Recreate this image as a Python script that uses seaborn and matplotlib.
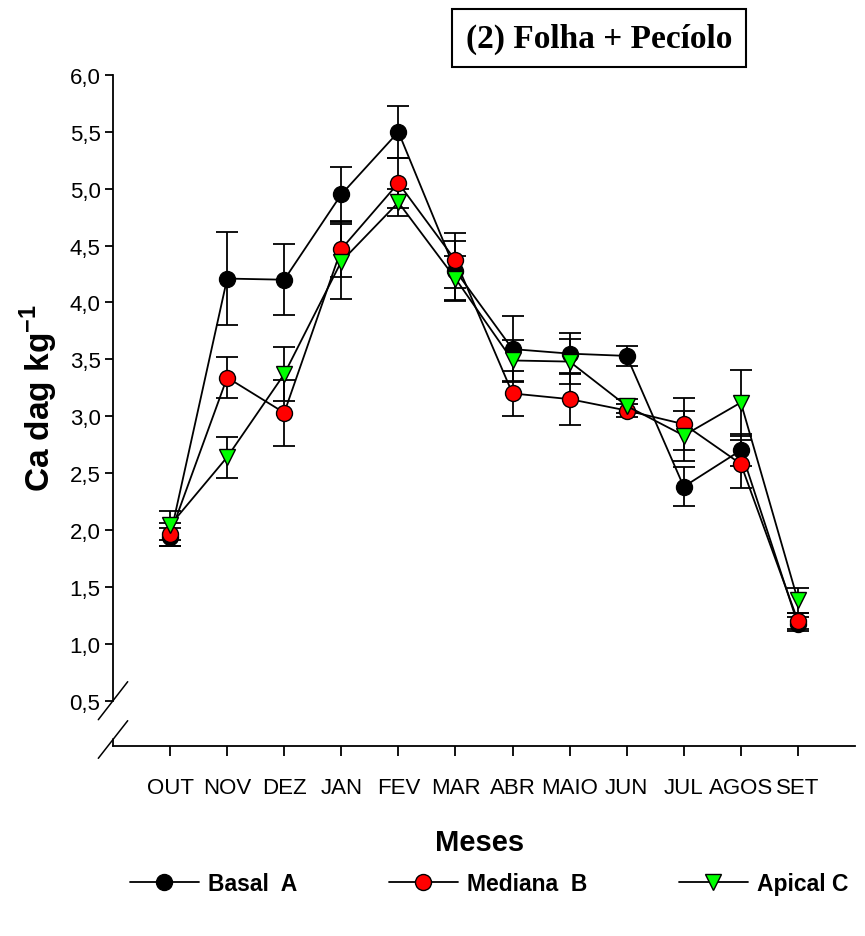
import numpy as np
import pandas as pd
import matplotlib
matplotlib.use('Agg')
import matplotlib.pyplot as plt
import seaborn as sns
from matplotlib.lines import Line2D

# ---------------- data ----------------
months = ['OUT', 'NOV', 'DEZ', 'JAN', 'FEV', 'MAR', 'ABR', 'MAIO', 'JUN', 'JUL', 'AGOS', 'SET']
basal = [1.94, 4.21, 4.20, 4.95, 5.50, 4.28, 3.59, 3.55, 3.53, 2.38, 2.70, 1.17]
basal_err = [0.08, 0.41, 0.31, 0.24, 0.23, 0.26, 0.29, 0.18, 0.09, 0.17, 0.14, 0.06]
mediana = [1.96, 3.34, 3.03, 4.47, 5.05, 4.37, 3.20, 3.15, 3.05, 2.93, 2.58, 1.20]
mediana_err = [0.10, 0.18, 0.29, 0.25, 0.22, 0.24, 0.20, 0.23, 0.06, 0.23, 0.21, 0.07]
apical = [2.04, 2.64, 3.37, 4.36, 4.88, 4.21, 3.49, 3.48, 3.09, 2.83, 3.12, 1.38]
apical_err = [0.13, 0.18, 0.24, 0.33, 0.12, 0.20, 0.18, 0.20, 0.06, 0.22, 0.29, 0.11]
series_names = ['Basal  A', 'Mediana  B', 'Apical C']
yticks = [0.5, 1.0, 1.5, 2.0, 2.5, 3.0, 3.5, 4.0, 4.5, 5.0, 5.5, 6.0]
title = '(2) Folha + Pecíolo'

# ---------------- style ----------------
sns.set_theme(style='white')
plt.rcParams['font.family'] = ['Liberation Sans', 'DejaVu Sans']
plt.rcParams['mathtext.fontset'] = 'custom'
plt.rcParams['mathtext.rm'] = 'Liberation Sans'
plt.rcParams['mathtext.bf'] = 'Liberation Sans:bold'
for k in ['text.color', 'axes.labelcolor', 'xtick.color', 'ytick.color', 'axes.edgecolor']:
    plt.rcParams[k] = 'black'

W, H = 865, 937
fig = plt.figure(figsize=(W / 100, H / 100), dpi=100)
ax = fig.add_axes([113 / W, 1 - 747 / H, (855 - 113) / W, (747 - 76) / H])

x = np.arange(len(months))
styles = [('o', 'black'), ('o', 'red'), ('v', '#00ff00')]
for name, vals, errs, (mk, fc) in zip(series_names, [basal, mediana, apical],
                                      [basal_err, mediana_err, apical_err], styles):
    df = pd.DataFrame({'mes': x, 'Ca': vals})
    ax.errorbar(x, vals, yerr=errs, fmt='none', ecolor='black', elinewidth=1.3,
                capsize=8, capthick=1.3, zorder=2)
    sns.lineplot(data=df, x='mes', y='Ca', ax=ax, color='black', lw=1.3, marker=mk,
                 markersize=11.5, markerfacecolor=fc, markeredgecolor='black',
                 markeredgewidth=1.0, label=name, zorder=3, sort=False)

ax.set_xlim(-1, len(months))
ax.set_ylim(0.1, 6.0)
ax.set_xticks(x)
ax.set_xticklabels(months, fontsize=16)
ax.set_yticks(yticks)
ax.set_yticklabels([f'{v:.1f}'.replace('.', ',') for v in yticks], fontsize=16)
ax.tick_params(axis='x', bottom=True, direction='out', length=7, width=1.3, pad=15, colors='black')
ax.tick_params(axis='y', left=True, direction='out', length=6, width=1.3, pad=3, colors='black')

for s in ['top', 'right']:
    ax.spines[s].set_visible(False)
for s in ['left', 'bottom']:
    ax.spines[s].set_color('black')
    ax.spines[s].set_linewidth(1.3)
ax.spines['left'].set_bounds(0.5, 6.0)
# small lower piece of the broken y axis
ax.plot([-1, -1], [0.1, 0.16], color='black', lw=1.3, clip_on=False)
# break marks
for (x0, y0, x1, y1) in [(98.3, 720.7, 127.7, 682.7), (98.3, 759.3, 127.7, 721.7)]:
    fig.add_artist(Line2D([x0 / W, x1 / W], [1 - y0 / H, 1 - y1 / H],
                          transform=fig.transFigure, color='black', lw=1.1))

ax.set_xlabel('Meses', fontweight='bold', fontsize=21)
ax.xaxis.set_label_coords((480 - 113) / 742, (747 - 829) / 671)
ax.set_ylabel(r'Ca dag kg$^{\mathbf{-1}}$', fontweight='bold', fontsize=24)
ax.yaxis.set_label_coords((60 - 113) / 742, (747 - 398) / 671)

fig.text(599 / W, 1 - 39 / H, title, family='Liberation Serif', weight='bold',
         fontsize=24, ha='center', va='center',
         bbox=dict(boxstyle='square,pad=0.4', fc='white', ec='black', lw=1.5))

handles, labels = ax.get_legend_handles_labels()
ax.get_legend().remove()
fig.legend(handles, labels, loc='center', bbox_to_anchor=(489 / W, 1 - 885 / H), ncol=3,
           frameon=False, prop={'family': 'Liberation Sans', 'weight': 'bold', 'size': 16.5},
           handlelength=3, handletextpad=0.4, columnspacing=4)

fig.savefig('out.png', dpi=100, facecolor='white')
